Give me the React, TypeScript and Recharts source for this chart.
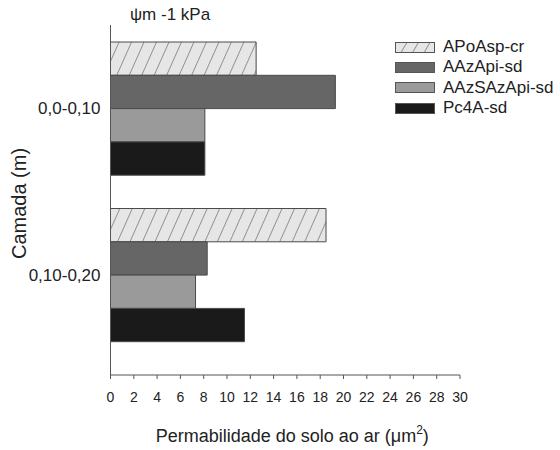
import { Bar, BarChart, Label, Legend, XAxis, YAxis } from "recharts";

const FONT = '"Liberation Sans", Arial, sans-serif';

// soil layers (m)
const camadas = ["0,0-0,10", "0,10-0,20"];

// soil air permeability, µm²
const apoaspCr = [12.5, 18.5];
const aazapiSd = [19.3, 8.3];
const aazsazapiSd = [8.1, 7.3];
const pc4aSd = [8.1, 11.5];

const xTicks = [0, 2, 4, 6, 8, 10, 12, 14, 16, 18, 20, 22, 24, 26, 28, 30];

const data = camadas.map((camada, i) => ({
  camada,
  apoasp: apoaspCr[i],
  aazapi: aazapiSd[i],
  aazsazapi: aazsazapiSd[i],
  pc4a: pc4aSd[i],
}));

const series = [
  { key: "apoasp", name: "APoAsp-cr", fill: "url(#hatch)", color: "#e6e6e6" },
  { key: "aazapi", name: "AAzApi-sd", fill: "#666666", color: "#666666" },
  { key: "aazsazapi", name: "AAzSAzApi-sd", fill: "#9a9a9a", color: "#9a9a9a" },
  { key: "pc4a", name: "Pc4A-sd", fill: "#1a1a1a", color: "#1a1a1a" },
];
const seriesOrder = series.map((s) => s.key);

const XTitle = ({ viewBox }: any) => {
  const { x, y, width } = viewBox;
  return (
    <text x={x + width / 2 + 7} y={y + 67} textAnchor="middle" fontSize={18} fill="#222" fontFamily={FONT}>
      Permabilidade do solo ao ar (μm
      <tspan dy={-8} fontSize={12}>2</tspan>
      <tspan dy={8}>)</tspan>
    </text>
  );
};

const YTitle = ({ viewBox }: any) => {
  const cy = viewBox.y + viewBox.height / 2 + 3.5;
  return (
    <text x={25.5} y={cy} transform={`rotate(-90, 25.5, ${cy})`} textAnchor="middle" fontSize={20} fill="#222" fontFamily={FONT}>
      Camada (m)
    </text>
  );
};

const LegendBox = ({ entry }: any) => {
  const hatched = entry.dataKey === "apoasp";
  return (
    <svg width={40} height={11} style={{ display: "block" }}>
      <defs>
        <pattern id="hatch-legend" patternUnits="userSpaceOnUse" width={10} height={10} patternTransform="rotate(30)">
          <line x1={0} y1={0} x2={0} y2={10} stroke="#444" strokeWidth={1} />
        </pattern>
      </defs>
      <rect x={0.5} y={0.5} width={39} height={10} fill={hatched ? "#e6e6e6" : entry.color} stroke="#555" />
      {hatched && <rect x={0.5} y={0.5} width={39} height={10} fill="url(#hatch-legend)" stroke="#555" />}
    </svg>
  );
};

const renderLegend = ({ payload }: any) => {
  const items = [...(payload || [])].sort(
    (a: any, b: any) => seriesOrder.indexOf(a.dataKey) - seriesOrder.indexOf(b.dataKey)
  );
  return (
    <div style={{ fontFamily: FONT, fontSize: 17, color: "#222" }}>
      {items.map((entry: any) => (
        <div key={entry.value} style={{ display: "flex", alignItems: "center", height: 20.3 }}>
          <LegendBox entry={entry} />
          <span style={{ marginLeft: 8, lineHeight: "20px" }}>{entry.value}</span>
        </div>
      ))}
    </div>
  );
};

export default function App() {
  return (
    <div style={{ position: "absolute", left: 0, top: 0, width: 560, height: 450, background: "#fff" }}>
      <BarChart
        width={560}
        height={450}
        data={data}
        layout="vertical"
        margin={{ top: 25, right: 100, bottom: 0, left: 0 }}
        barSize={33.3}
        barGap={0}
      >
        <defs>
          <pattern id="hatch" patternUnits="userSpaceOnUse" width={11.4} height={11.4} patternTransform="rotate(24)">
            <rect width={11.4} height={11.4} fill="#e6e6e6" />
            <line x1={0} y1={0} x2={0} y2={11.4} stroke="#444" strokeWidth={1} />
          </pattern>
        </defs>
        <text x={130} y={20} fontSize={17} fill="#222" fontFamily={FONT}>
          ψm -1 kPa
        </text>
        <XAxis
          type="number"
          domain={[0, 30]}
          ticks={xTicks}
          interval={0}
          height={75}
          tickSize={4}
          tickMargin={13}
          stroke="#555"
          tick={{ fill: "#222", fontSize: 14, fontFamily: FONT }}
        >
          <Label content={XTitle} />
        </XAxis>
        <YAxis
          type="category"
          dataKey="camada"
          width={110.5}
          tickLine={false}
          tickSize={0}
          tickMargin={10}
          padding={{ top: 0, bottom: 17 }}
          stroke="#555"
          tick={{ fill: "#222", fontSize: 17, fontFamily: FONT }}
        >
          <Label content={YTitle} />
        </YAxis>
        <Legend
          layout="vertical"
          align="center"
          verticalAlign="middle"
          wrapperStyle={{ left: 395, top: 37, width: 165 }}
          content={renderLegend}
        />
        {series.map((s) => (
          <Bar
            key={s.key}
            dataKey={s.key}
            name={s.name}
            fill={s.fill}
            color={s.color}
            stroke="#4a4a4a"
            strokeWidth={1}
            isAnimationActive={false}
          />
        ))}
      </BarChart>
    </div>
  );
}
